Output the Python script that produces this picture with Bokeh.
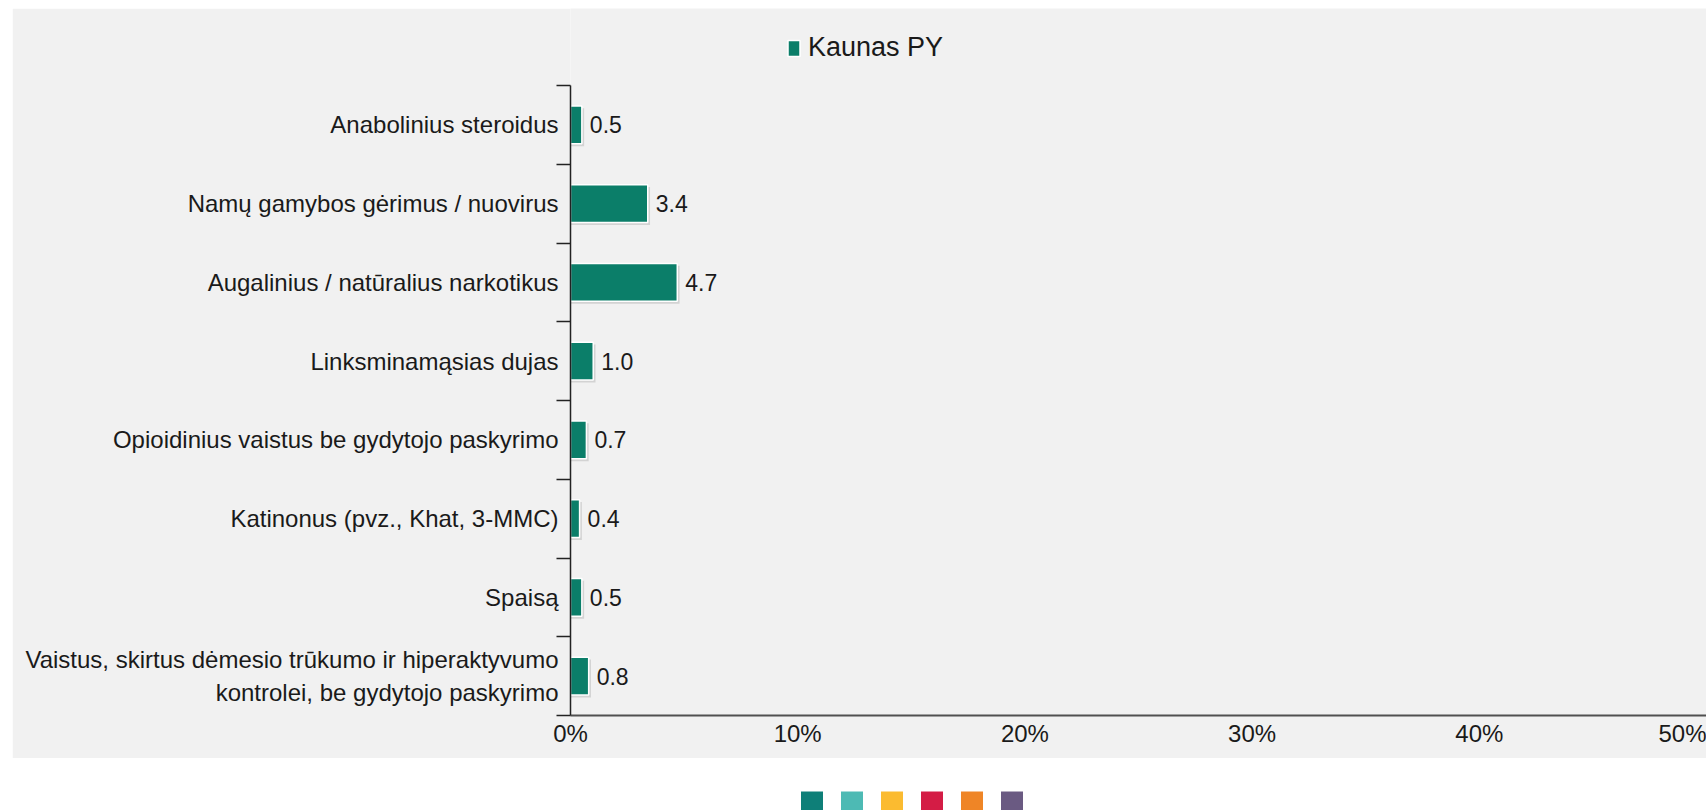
from bokeh.plotting import figure
from bokeh.models import (Range1d, FixedTicker, Legend, LegendItem, Spacer,
                          ColumnDataSource)
from bokeh.layouts import column, row
from bokeh.embed import file_html
from bokeh.resources import INLINE
from bokeh.core.properties import value

# ---------------- data ----------------
categories = [
    "Anabolinius steroidus",
    "Namų gamybos gėrimus / nuovirus",
    "Augalinius / natūralius narkotikus",
    "Linksminamąsias dujas",
    "Opioidinius vaistus be gydytojo paskyrimo",
    "Katinonus (pvz., Khat, 3-MMC)",
    "Spaisą",
    "Vaistus, skirtus dėmesio trūkumo ir hiperaktyvumo\nkontrolei, be gydytojo paskyrimo",
]
values = [0.5, 3.4, 4.7, 1.0, 0.7, 0.4, 0.5, 0.8]
series_name = "Kaunas PY"
x_ticks = [0, 10, 20, 30, 40, 50]
x_tick_labels = ["0%", "10%", "20%", "30%", "40%", "50%"]
palette = ["#0e7f78", "#4dbab4", "#fbbb30", "#d41c45", "#ef8526", "#6a5a82"]

# ---------------- styles ----------------
FONT = "Liberation Sans"
BG = "#f1f1f1"
BAR = "#0b7e69"
TXT = "#1a1a1a"
TOP_ROOM = 0.978          # space above the first category (legend area), in band units

n = len(categories)
centers = [i + 0.5 for i in range(n)]
bounds = [i for i in range(n + 1)]

src = ColumnDataSource(dict(
    y=centers,
    v=values,
    vs=[v + 0.1 for v in values],
    ys=[c + 0.03 for c in centers],
    lab=["%.1f" % v for v in values],
))

p = figure(width=1694, height=750, output_backend="svg", toolbar_location=None,
           x_range=Range1d(0, x_ticks[-1]), y_range=Range1d(n, -TOP_ROOM),
           min_border_left=558, min_border_right=0, min_border_top=0,
           min_border_bottom=43)
p.background_fill_color = BG
p.border_fill_color = BG
p.outline_line_color = None
p.xgrid.visible = False
p.ygrid.visible = False

# shadow + bars
p.hbar(y="ys", left=0, right="vs", height=0.48, source=src,
       fill_color="#c6c6c6", fill_alpha=0.7, line_color=None)
bars = p.hbar(y="y", left=0, right="v", height=0.48, source=src,
              fill_color=BAR, line_color="white", line_width=1.5)
p.text(x="v", y="y", text="lab", source=src, x_offset=8,
       text_baseline="middle", text_align="left",
       text_font=value(FONT), text_font_size="23px", text_color=TXT)

# x axis
xa = p.xaxis[0]
xa.ticker = FixedTicker(ticks=x_ticks)
xa.major_label_overrides = {t: l for t, l in zip(x_ticks, x_tick_labels)}
xa.major_tick_out = 0
xa.major_tick_in = 0
xa.minor_tick_out = 0
xa.minor_tick_in = 0
xa.axis_line_color = "#505050"
xa.axis_line_width = 2
xa.major_label_standoff = 4
xa.major_label_text_font = FONT
xa.major_label_text_font_size = "24px"
xa.major_label_text_color = TXT

# y axis
ya = p.yaxis[0]
ya.bounds = (0, n)
ya.ticker = FixedTicker(ticks=centers, minor_ticks=bounds)
ya.major_label_overrides = {c: name for c, name in zip(centers, categories)}
ya.major_tick_out = 0
ya.major_tick_in = 0
ya.minor_tick_out = 14
ya.minor_tick_in = 0
ya.minor_tick_line_color = "#222222"
ya.minor_tick_line_width = 1.5
ya.axis_line_color = "#222222"
ya.axis_line_width = 1.5
ya.major_label_standoff = -2
ya.major_label_text_font = FONT
ya.major_label_text_font_size = "24px"
ya.major_label_text_color = TXT

# legend
legend = Legend(items=[LegendItem(label=series_name, renderers=[bars])],
                location=(216, 652), orientation="horizontal",
                padding=0, margin=0, spacing=0,
                glyph_width=15, glyph_height=20, label_standoff=7,
                label_text_font=FONT, label_text_font_size="27px",
                label_text_color=TXT,
                border_line_color=None, background_fill_alpha=0)
p.add_layout(legend, "center")

# colour swatches below the chart
sw = figure(width=1706, height=52, output_backend="svg", toolbar_location=None,
            x_range=Range1d(-20.2875, 22.3625), y_range=Range1d(-0.1818, 1),
            x_axis_type=None, y_axis_type=None,
            min_border_left=0, min_border_right=0, min_border_top=0,
            min_border_bottom=0)
sw.outline_line_color = None
sw.xgrid.visible = False
sw.ygrid.visible = False
sw.background_fill_color = "white"
sw.border_fill_color = "white"
sw.scatter(x=list(range(len(palette))), y=[0] * len(palette), marker="square",
           size=22, fill_color=palette, line_color=None)

layout = column(Spacer(width=1706, height=8),
                row(Spacer(width=12, height=750), p),
                sw)

open("out.html", "w").write(file_html(layout, INLINE))
